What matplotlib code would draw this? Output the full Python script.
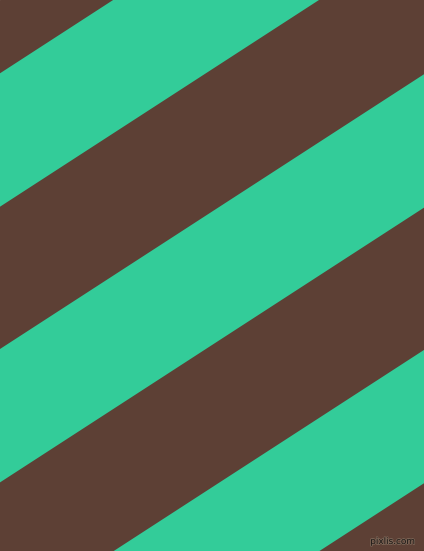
import matplotlib
matplotlib.use("Agg")
import matplotlib.pyplot as plt
import matplotlib.patheffects as pe
import numpy as np

# Stripe geometry (image pixel units, y measured downward from top)
slope = 0.648                      # drop in y per unit x (stripes rise to the right)
green_upper_edge = [-202.4, 73.3, 349.0, 624.7]   # left-edge y where each green band starts
green_lower_edge = [-69.0, 206.7, 482.4, 758.0]   # left-edge y where each green band ends
brown = "#5D4035"
green = "#33CC99"
watermark = "pixlis.com"

W, H = 424, 551
fig = plt.figure(figsize=(W / 100, H / 100), dpi=100)
ax = fig.add_axes([0, 0, 1, 1])
ax.set_xlim(0, W)
ax.set_ylim(H, 0)
ax.axis("off")
ax.add_patch(plt.Rectangle((0, 0), W, H, color=brown, zorder=0))

x = np.array([0.0, W])
for top, bot in zip(green_upper_edge, green_lower_edge):
    ax.fill_between(x, top - slope * x, bot - slope * x, color=green, linewidth=0, zorder=1)

ax.text(415, 544, watermark, ha="right", va="baseline", fontsize=6.4,
        color="#1a1614", family="DejaVu Sans", zorder=3,
        path_effects=[pe.withStroke(linewidth=1.2, foreground="#7a6455")])

fig.savefig("out.png", dpi=100)
